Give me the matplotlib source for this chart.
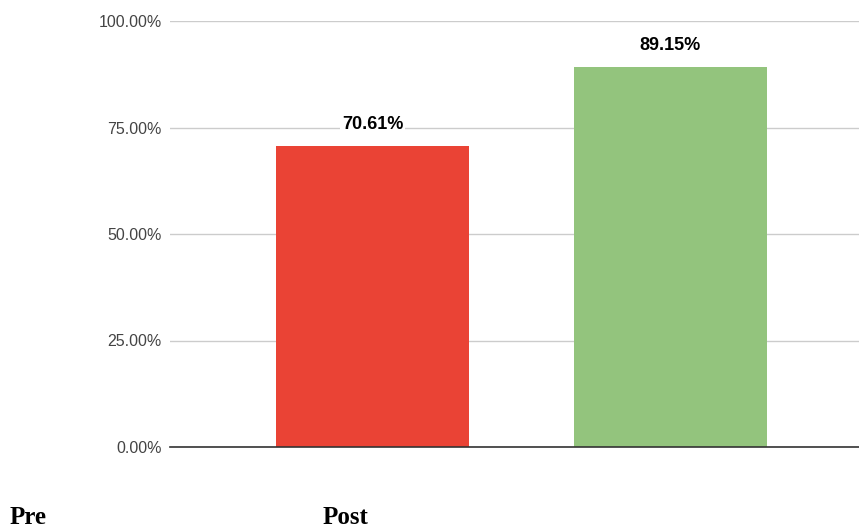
import matplotlib.pyplot as plt

categories = ["Pre", "Post"]
values = [70.61, 89.15]
colors = ["#EA4335", "#93C47D"]
yticks = [0, 25, 50, 75, 100]

fig = plt.figure(figsize=(8.59, 5.28), dpi=100, facecolor="white")
ax = fig.add_axes([170 / 859, 1 - 447 / 528, 689 / 859, (447 - 21) / 528])

x = range(len(values))
ax.bar(x, values, width=0.648, color=colors, zorder=2)
for xi, v in zip(x, values):
    ax.text(xi, v + 5.2, f"{v:.2f}%", ha="center", va="center", fontsize=13,
            fontweight="bold", family="Liberation Sans", color="black",
            bbox=dict(facecolor="white", edgecolor="none", pad=1), zorder=3)

ax.set_xlim(-0.6795, 1.6326)
ax.set_ylim(0, 100)
ax.set_yticks(yticks)
ax.set_yticklabels([f"{t:.2f}%" for t in yticks], family="Liberation Sans",
                   fontsize=11.5, color="#444444")
ax.tick_params(axis="y", length=0, pad=6)
ax.set_xticks([])
ax.grid(axis="y", color="#cccccc", linewidth=1, zorder=0)
for s in ["top", "right", "left"]:
    ax.spines[s].set_visible(False)
ax.spines["bottom"].set_color("#333333")
ax.spines["bottom"].set_linewidth(1.2)
ax.spines["bottom"].set_zorder(4)

# category names sit below the chart, left aligned
fig.text(10 / 859, 1 - 518 / 528, categories[0], family="Liberation Serif",
         fontweight="bold", fontsize=18, ha="left", va="center")
fig.text(323 / 859, 1 - 518 / 528, categories[1], family="Liberation Serif",
         fontweight="bold", fontsize=18, ha="left", va="center")

fig.savefig("out.png", dpi=100)
